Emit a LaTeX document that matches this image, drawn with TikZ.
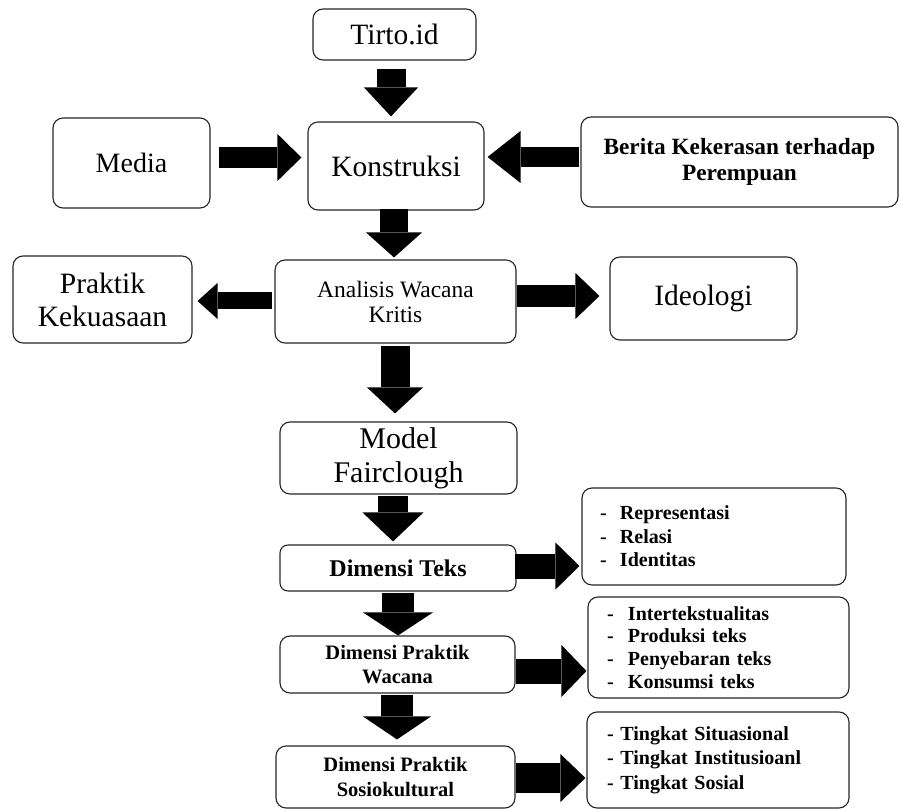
\documentclass[tikz,border=0pt]{standalone}
\usepackage{fontspec}
\setmainfont{Liberation Serif}
\usetikzlibrary{arrows.meta}
\begin{document}
\begin{tikzpicture}[x=1pt,y=-1pt,
  box/.style={draw=black!85, line width=1.1pt, rounded corners=10pt, inner sep=0pt, align=center, fill=white},
  big/.style={font=\fontsize{29.5}{33}\selectfont},
  listbox/.style={box, align=left, font=\bfseries\fontsize{20}{23.5}\selectfont},
  barrow/.style n args={3}{line width=#1, draw=black, -{Triangle[width=#2, length=#3, line width=0pt]}}
]
\path[fill=white] (0,0) rectangle (900,810);
\useasboundingbox (0,0) rectangle (900,810);

% nodes
\node[box, big, minimum width=163pt, minimum height=51pt] (tirto) at (394.5,34.5) {Tirto.id};
\node[box, font=\fontsize{28}{31}\selectfont, minimum width=157pt, minimum height=90pt] (media) at (131.5,163) {Media};
\node[box, big, minimum width=176pt, minimum height=88pt] (kons) at (396,166) {Konstruksi};
\node[box, font=\bfseries\fontsize{23.3}{26}\selectfont, minimum width=317pt, minimum height=90pt] (berita) at (739.5,162) {Berita Kekerasan terhadap\\Perempuan};
\node[box, big, minimum width=179pt, minimum height=87pt] (praktik) at (102.5,299.5) {Praktik\\Kekuasaan};
\node[box, font=\fontsize{23.5}{25}\selectfont, minimum width=241pt, minimum height=83pt] (analisis) at (395.5,301.5) {Analisis Wacana\\Kritis};
\node[box, big, minimum width=187pt, minimum height=83pt] (ideologi) at (703.5,298.5) {Ideologi};
\node[box, font=\fontsize{30}{34}\selectfont, minimum width=237pt, minimum height=72pt] (model) at (398.5,458) {Model\\Fairclough};
\node[box, font=\bfseries\fontsize{24}{27}\selectfont, minimum width=236pt, minimum height=46pt, rounded corners=8pt] (dteks) at (398,568) {Dimensi Teks};
\node[listbox, text width=228pt, inner xsep=18pt, minimum height=97pt] (repr) at (714,536.5)
  {\makebox[20pt][l]{-}Representasi\\\makebox[20pt][l]{-}Relasi\\\makebox[20pt][l]{-}Identitas};
\node[box, font=\bfseries\fontsize{20.5}{24}\selectfont, minimum width=235pt, minimum height=57pt] (dpw) at (397.5,664.5) {Dimensi Praktik\\Wacana};
\node[listbox, font=\bfseries\fontsize{20}{22.7}\selectfont, text width=223pt, inner xsep=19pt, minimum height=101pt] (inter) at (718.5,647.5)
  {\makebox[21pt][l]{-}Intertekstualitas\\\makebox[21pt][l]{-}Produksi teks\\\makebox[21pt][l]{-}Penyebaran teks\\\makebox[21pt][l]{-}Konsumsi teks};
\node[box, font=\bfseries\fontsize{20.5}{25}\selectfont, minimum width=239pt, minimum height=62pt] (dps) at (395.5,777) {Dimensi Praktik\\Sosiokultural};
\node[listbox, font=\bfseries\fontsize{20}{24.5}\selectfont, text width=222pt, inner xsep=20pt, minimum height=96pt] (tingkat) at (718,760)
  {- Tingkat Situasional\\- Tingkat Institusioanl\\- Tingkat Sosial};

% block arrows
\draw[barrow={29pt}{54pt}{29pt}, shorten <=8pt, shorten >=5pt] ([xshift=-3.5pt]tirto.south) -- ([xshift=-5pt]kons.north);
\draw[barrow={21pt}{47pt}{24pt}, shorten <=8pt, shorten >=6pt] ([yshift=5.5pt]media.east) -- ([yshift=8.5pt]kons.west);
\draw[barrow={20pt}{52pt}{33pt}, shorten <=1pt, shorten >=3pt] ([yshift=5pt]berita.west) -- ([yshift=9pt]kons.east);
\draw[barrow={28pt}{56pt}{25pt}, shorten <=-2pt, shorten >=2pt] ([xshift=-2pt]kons.south) -- ([xshift=-1.5pt]analisis.north);
\draw[barrow={17pt}{36pt}{20pt}, shorten <=2pt, shorten >=5pt] ([yshift=0.5pt]analisis.west) -- ([yshift=-1.5pt]praktik.east);
\draw[barrow={22pt}{46pt}{24pt}, shorten >=10pt] ([yshift=5.5pt]analisis.east) -- ([yshift=2.5pt]ideologi.west);
\draw[barrow={29pt}{56pt}{26pt}, shorten <=2pt, shorten >=8pt] ([xshift=-0.5pt]analisis.south) -- ([xshift=-3.5pt]model.north);
\draw[barrow={30pt}{61pt}{29pt}, shorten <=1pt, shorten >=3pt] ([xshift=-5.5pt]model.south) -- ([xshift=-5pt]dteks.north);
\draw[barrow={25pt}{47pt}{24pt}, shorten <=-2pt, shorten >=2pt] ([yshift=2pt]dteks.east) -- ([yshift=-29.5pt]repr.west);
\draw[barrow={32pt}{70pt}{23pt}, shorten <=1pt] (dteks.south) -- ([xshift=0.5pt]dpw.north);
\draw[barrow={25pt}{52pt}{25pt}, shorten >=1pt] ([yshift=-6.5pt]dpw.east) -- ([yshift=-23.5pt]inter.west);
\draw[barrow={32pt}{68pt}{23pt}, shorten <=1pt, shorten >=6pt] ([xshift=-0.5pt]dpw.south) -- ([xshift=1.5pt]dps.north);
\draw[barrow={30pt}{48pt}{25pt}, shorten >=1pt] ([yshift=-1pt]dps.east) -- ([yshift=-18pt]tingkat.west);
\end{tikzpicture}
\end{document}
